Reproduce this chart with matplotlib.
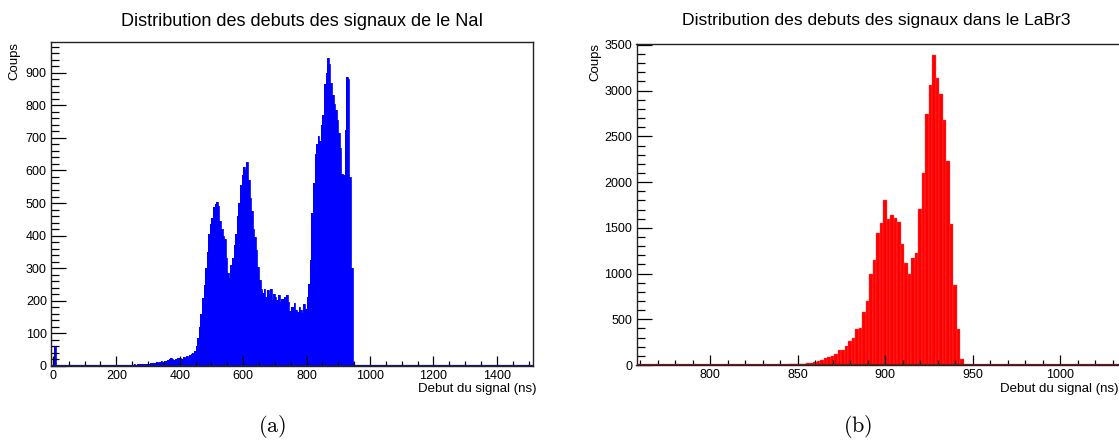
import matplotlib

matplotlib.use("Agg")
import matplotlib.pyplot as plt  # noqa: E402
import numpy as np  # noqa: E402
from matplotlib.ticker import MultipleLocator  # noqa: E402

plt.rcParams["font.family"] = ["Liberation Sans", "DejaVu Sans"]
plt.rcParams["mathtext.fontset"] = "cm"

# NaI: 5 ns bins starting at 0 ns, counts
NAI_BIN_NS = 5
nai_counts = [
    # 0 - 150
    6, 60, 3, 0, 1, 0, 0, 1, 0, 0, 0, 1, 0, 0, 1, 0, 0, 0, 1, 0,
    0, 1, 0, 0, 1, 0, 1, 0, 0, 1,
    # 150 - 400
    1, 1, 2, 1, 1, 2, 1, 2, 2, 2,
    2, 3, 2, 3, 3, 2, 4, 3, 3, 4,
    4, 5, 4, 5, 5, 6, 5, 6, 7, 6,
    7, 8, 9, 8, 10, 11, 10, 12, 14, 13,
    15, 16, 18, 22, 25, 23, 19, 21, 26, 24,
    # 400 - 500
    25, 22, 28, 26, 30, 27, 33, 36, 40, 45,
    60, 85, 120, 160, 210, 250, 300, 350, 405, 435,
    # 500 - 600
    455, 488, 497, 502, 490, 445, 420, 400, 390, 330,
    285, 270, 310, 330, 370, 405, 460, 500, 555, 585,
    # 600 - 700
    612, 600, 625, 570, 515, 475, 420, 395, 355, 305,
    265, 235, 225, 235, 212, 233, 222, 235, 202, 222,
    # 700 - 800
    212, 202, 218, 197, 207, 205, 212, 218, 197, 170,
    180, 182, 192, 172, 167, 182, 172, 162, 190, 175,
    # 800 - 900
    212, 253, 325, 470, 560, 650, 680, 705, 690, 740,
    770, 865, 900, 945, 925, 868, 830, 805, 785, 755,
    # 900 - 950
    715, 670, 590, 585, 725, 888, 880, 580, 300, 10,
]
# sparse single counts after the cut-off
nai_tail_ns = [1035, 1120, 1340, 1435, 1460, 1480]
nai_tail_counts = [1, 1, 2, 1, 2, 1]

# LaBr3: 2 ns bins, centres in ns
labr_centers = np.arange(820, 948, 2)
labr_counts = [
    1, 0, 0, 1, 0, 1, 0, 1, 4, 2,
    5, 3, 5, 6, 8, 9, 14, 16, 18, 26,
    32, 42, 56, 82, 92, 102, 118, 160, 162, 205,
    265, 290, 395, 410, 585, 705, 1000, 1150, 1440, 1550,
    1805, 1595, 1645, 1610, 1565, 1320, 1120, 1000, 1170, 1225,
    1705, 2100, 2745, 3060, 3390, 3135, 2960, 2680, 2235, 1540,
    878, 390, 65, 3,
]

W, H = 1119, 443
fig = plt.figure(figsize=(W / 100, H / 100), dpi=100)


def frame(ax, xlen, ylen):
    for s in ax.spines.values():
        s.set_linewidth(1.0)
        s.set_color("#222222")
    ax.tick_params(axis="both", which="both", direction="in", top=False,
                   right=False, labelsize=9, width=0.9, pad=3)
    ax.tick_params(axis="y", which="major", length=ylen)
    ax.tick_params(axis="y", which="minor", length=ylen / 2)
    ax.tick_params(axis="x", which="major", length=xlen)
    ax.tick_params(axis="x", which="minor", length=xlen / 2)


# ---- (a) NaI ----
ax1 = fig.add_axes([51 / W, 77 / H, 482 / W, 324 / H])
edges = np.arange(len(nai_counts) + 1) * NAI_BIN_NS
ax1.stairs(nai_counts, edges, fill=True, color="#0000ff", lw=0)
ax1.stairs(nai_counts, edges, color="#0000ff", lw=0.6)
ax1.bar(nai_tail_ns, nai_tail_counts, width=2, color="#0000ff", lw=0)
ax1.axhline(0, color="#16167a", lw=1.6, zorder=3)
ax1.set_xlim(-6, 1514)
ax1.set_ylim(0, 994)
ax1.xaxis.set_major_locator(MultipleLocator(200))
ax1.xaxis.set_minor_locator(MultipleLocator(50))
ax1.yaxis.set_major_locator(MultipleLocator(100))
ax1.yaxis.set_minor_locator(MultipleLocator(20))
frame(ax1, 7.2, 10.8)

fig.text(302 / W, 1 - 22 / H, "Distribution des debuts des signaux de le NaI",
         ha="center", va="center", fontsize=13)
fig.text(14 / W, 1 - 42 / H, "Coups", rotation=90, ha="center", va="top",
         fontsize=9.5)
fig.text(536 / W, 1 - 389 / H, "Debut du signal (ns)", ha="right",
         va="center", fontsize=9.5)
fig.text(272 / W, 1 - 427 / H, r"$\mathrm{(a)}$", ha="center", va="center",
         fontsize=16)

# ---- (b) LaBr3 ----
ax2 = fig.add_axes([636.5 / W, 78 / H, 485 / W, 321 / H])
ax2.bar(labr_centers, labr_counts, width=2, color="#ff0000",
        edgecolor="#ff5050", lw=0.25)
ax2.axhline(0, color="#7a1616", lw=1.6, zorder=3)
ax2.set_xlim(758, 1035)
ax2.set_ylim(0, 3510)
ax2.xaxis.set_major_locator(MultipleLocator(50))
ax2.xaxis.set_minor_locator(MultipleLocator(10))
ax2.yaxis.set_major_locator(MultipleLocator(500))
ax2.yaxis.set_minor_locator(MultipleLocator(100))
frame(ax2, 7.2, 10.8)

fig.text(876 / W, 1 - 20 / H, "Distribution des debuts des signaux dans le LaBr3",
         ha="center", va="center", fontsize=12.6)
fig.text(595 / W, 1 - 43 / H, "Coups", rotation=90, ha="center", va="top",
         fontsize=9.5)
fig.text(1119 / W, 1 - 389 / H, "Debut du signal (ns)", ha="right",
         va="center", fontsize=9.5)
fig.text(858 / W, 1 - 427 / H, r"$\mathrm{(b)}$", ha="center", va="center",
         fontsize=16)

fig.savefig("out.png", dpi=100)
